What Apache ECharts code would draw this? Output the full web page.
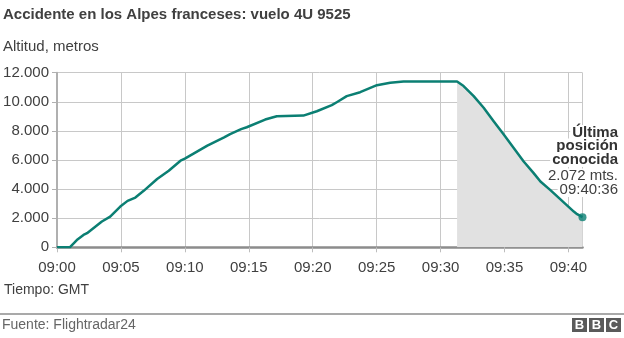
<!DOCTYPE html>
<html>
<head>
<meta charset="utf-8">
<script src="https://cdn.jsdelivr.net/npm/echarts@6/dist/echarts.min.js"></script>
<style>
html,body{margin:0;padding:0;background:#fff;}
#chart{width:624px;height:338px;}
</style>
</head>
<body>
<div id="chart"></div>
<script>
// Minutes after 09:00 (GMT) and altitude in metres
var climbMinutes = [0, 1.0, 1.55, 2.07, 2.35, 3.51, 4.16, 4.95, 5.52, 6.13, 6.78, 7.83, 8.74, 9.66, 10.0, 11.76, 13.07, 13.54, 14.4, 14.84, 16.28, 17.19, 19.27, 20.32, 21.49, 21.88, 22.66, 23.71, 25.02, 26.06, 27.1, 31.29];
var climbAltitude = [0, 0, 500, 850, 970, 1770, 2110, 2800, 3190, 3420, 3880, 4690, 5260, 5950, 6090, 6990, 7560, 7780, 8120, 8250, 8780, 9010, 9050, 9350, 9770, 9970, 10390, 10660, 11140, 11310, 11400, 11400];
var descentMinutes = [31.29, 31.8, 32.59, 33.37, 34.15, 34.94, 35.72, 36.5, 37.28, 37.81, 38.59, 40.42, 40.68, 41.1];
var descentAltitude = [11400, 11080, 10390, 9590, 8660, 7745, 6830, 5900, 5100, 4520, 3930, 2455, 2276, 2072];
var xTickLabels = ['09:00', '09:05', '09:10', '09:15', '09:20', '09:25', '09:30', '09:35', '09:40'];
var yTickLabels = ['0', '2.000', '4.000', '6.000', '8.000', '10.000', '12.000'];

var FONT = '"Liberation Sans", Arial, Helvetica, sans-serif';
var TXT = '#404040';

function pairs(xs, ys) { return xs.map(function (x, i) { return [x, ys[i]]; }); }
var fullLine = pairs(climbMinutes, climbAltitude).concat(pairs(descentMinutes, descentAltitude).slice(1));
var descentArea = pairs(descentMinutes, descentAltitude);
var lastPoint = [descentMinutes[descentMinutes.length - 1], descentAltitude[descentAltitude.length - 1]];

function note(text, x, y, bold) {
  return {type: 'text', x: x, y: y, z: 1, style: {
    text: text, font: (bold ? 'bold ' : '') + '15px ' + FONT, fill: bold ? '#333' : TXT,
    align: 'right', backgroundColor: '#fff', padding: [0, 2, 0, 2]
  }};
}

var chart = echarts.init(document.getElementById('chart'), null, {renderer: 'canvas'});
chart.setOption({
  animation: false,
  backgroundColor: '#fff',
  grid: {left: 57, top: 72.7, right: 41.5, bottom: 90.7, containLabel: false},
  xAxis: {
    type: 'value', min: 0, max: 41.1, interval: 5,
    axisLine: {show: true, lineStyle: {color: '#8c8c8c', width: 2.5}},
    axisTick: {show: true, length: 5, lineStyle: {color: '#bdbdbd'}},
    axisLabel: {
      show: true, showMaxLabel: false, margin: 13, color: TXT, fontFamily: FONT, fontSize: 15,
      formatter: function (v) { var i = Math.round(v / 5); return (Math.abs(v - i * 5) < 1e-6 && xTickLabels[i]) ? xTickLabels[i] : ''; }
    },
    splitLine: {show: true, lineStyle: {color: '#c8c8c8', width: 1}}
  },
  yAxis: {
    type: 'value', min: 0, max: 12000, interval: 2000,
    axisLine: {show: true, lineStyle: {color: '#b0b0b0', width: 2}},
    axisTick: {show: true, length: 5, lineStyle: {color: '#b0b0b0'}},
    axisLabel: {
      margin: 8, color: TXT, fontFamily: FONT, fontSize: 15,
      formatter: function (v) { return yTickLabels[Math.round(v / 2000)]; }
    },
    splitLine: {show: true, lineStyle: {color: '#c8c8c8', width: 1}}
  },
  series: [
    {
      type: 'line', data: descentArea, showSymbol: false, silent: true, z: 1,
      lineStyle: {width: 0, opacity: 0},
      areaStyle: {color: '#e1e1e1', opacity: 1}
    },
    {
      type: 'line', data: fullLine, showSymbol: false, z: 3,
      lineStyle: {color: '#0b7f73', width: 2.5, join: 'round'}
    },
    {
      type: 'scatter', data: [lastPoint], symbol: 'circle', symbolSize: 8, z: 4,
      itemStyle: {color: '#0b7f73'}
    }
  ],
  graphic: [
    {type: 'text', left: 3, top: 7, style: {text: 'Accidente en los Alpes franceses: vuelo 4U 9525', font: 'bold 15px ' + FONT, fill: TXT}},
    {type: 'text', left: 3, top: 39, style: {text: 'Altitud, metros', font: '15px ' + FONT, fill: TXT}},
    {type: 'text', left: 4, top: 283, style: {text: 'Tiempo: GMT', font: '14px ' + FONT, fill: TXT}},
    {type: 'text', x: 459, y: 175, style: {text: 'Período de\ndescenso', font: '15px ' + FONT, fill: TXT, lineHeight: 15}},
    note('Última', 620, 125, true),
    note('posición', 620, 138.5, true),
    note('conocida', 620, 152, true),
    note('2.072 mts.', 620, 168.5, false),
    note('09:40:36', 620, 182, false),
    {type: 'line', shape: {x1: 0, y1: 314, x2: 624, y2: 314}, style: {stroke: '#8c8c8c', lineWidth: 1.5}},
    {type: 'text', left: 2, top: 318, style: {text: 'Fuente: Flightradar24', font: '14px ' + FONT, fill: '#666'}},
    {type: 'rect', shape: {x: 572, y: 318, width: 15, height: 14}, style: {fill: '#5a5a5a'}},
    {type: 'rect', shape: {x: 589, y: 318, width: 15, height: 14}, style: {fill: '#5a5a5a'}},
    {type: 'rect', shape: {x: 606, y: 318, width: 15, height: 14}, style: {fill: '#5a5a5a'}},
    {type: 'text', x: 579.5, y: 325.5, style: {text: 'B', font: 'bold 13px ' + FONT, fill: '#fff', align: 'center', verticalAlign: 'middle'}},
    {type: 'text', x: 596.5, y: 325.5, style: {text: 'B', font: 'bold 13px ' + FONT, fill: '#fff', align: 'center', verticalAlign: 'middle'}},
    {type: 'text', x: 613.5, y: 325.5, style: {text: 'C', font: 'bold 13px ' + FONT, fill: '#fff', align: 'center', verticalAlign: 'middle'}}
  ]
});
</script>
</body>
</html>
